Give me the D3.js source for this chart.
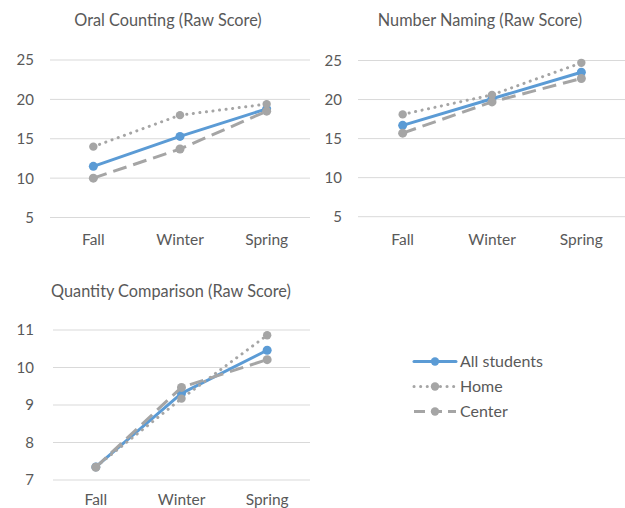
<!DOCTYPE html>
<html>
<head>
<meta charset="utf-8">
<script src="https://cdn.jsdelivr.net/npm/d3@7"></script>
<style>
  html, body { margin: 0; padding: 0; background: #fff; }
  svg { display: block; }
  text { font-family: Lato, "Open Sans", sans-serif; fill: #595959; }
</style>
</head>
<body>
<svg id="chart" width="625" height="508"></svg>
<script>
// Assessment terms
const terms = ["Fall", "Winter", "Spring"];

// Series names
const seriesNames = ["All students", "Home", "Center"];

// Oral Counting raw scores
const oralAll = [11.5, 15.3, 18.8];
const oralHome = [14.0, 18.0, 19.4];
const oralCenter = [10.0, 13.7, 18.5];

// Number Naming raw scores
const namingAll = [16.7, 20.1, 23.5];
const namingHome = [18.1, 20.6, 24.7];
const namingCenter = [15.7, 19.7, 22.7];

// Quantity Comparison raw scores
const qtyAll = [7.35, 9.31, 10.46];
const qtyHome = [7.35, 9.17, 10.86];
const qtyCenter = [7.34, 9.47, 10.21];

// Y-axis ticks
const countTicks = [5, 10, 15, 20, 25];
const qtyTicks = [7, 8, 9, 10, 11];

const styles = {
  "All students": { color: "#5B9BD5", dash: null, width: 3, cap: "round", r: 4.5 },
  "Home": { color: "#A5A5A5", dash: "0.1 6.5", width: 3, cap: "round", r: 4.2 },
  "Center": { color: "#A5A5A5", dash: "14 7", width: 3, cap: "butt", r: 4.5 }
};

const panels = [
  { title: "Oral Counting (Raw Score)", titleX: 168, titleY: 26,
    x0: 50, x1: 310, yTop: 60, yBot: 217.5, labelX: 34, catY: 245,
    domain: [5, 25], ticks: countTicks, series: [oralAll, oralHome, oralCenter] },
  { title: "Number Naming (Raw Score)", titleX: 480, titleY: 26,
    x0: 358, x1: 626, yTop: 60.5, yBot: 216.7, labelX: 342, catY: 245,
    domain: [5, 25], ticks: countTicks, series: [namingAll, namingHome, namingCenter] },
  { title: "Quantity Comparison (Raw Score)", titleX: 171, titleY: 297,
    x0: 53, x1: 310, yTop: 330, yBot: 480, labelX: 34, catY: 505,
    domain: [7, 11], ticks: qtyTicks, series: [qtyAll, qtyHome, qtyCenter] }
];

const svg = d3.select("#chart");

panels.forEach(p => {
  const g = svg.append("g");
  const x = d3.scaleBand().domain(terms).range([p.x0, p.x1]);
  const y = d3.scaleLinear().domain(p.domain).range([p.yBot, p.yTop]);

  g.append("text")
    .attr("x", p.titleX).attr("y", p.titleY)
    .attr("text-anchor", "middle")
    .style("font-size", "16.3px")
    .text(p.title);

  // horizontal gridlines
  g.append("g").selectAll("line").data(p.ticks).join("line")
    .attr("x1", p.x0).attr("x2", p.x1)
    .attr("y1", d => y(d)).attr("y2", d => y(d))
    .attr("stroke", "#D9D9D9").attr("stroke-width", 1);

  // y tick labels
  g.append("g").selectAll("text").data(p.ticks).join("text")
    .attr("x", p.labelX).attr("y", d => y(d))
    .attr("dy", "0.36em")
    .attr("text-anchor", "end")
    .style("font-size", "15px")
    .text(d => d);

  // category labels
  g.append("g").selectAll("text").data(terms).join("text")
    .attr("x", d => x(d) + x.bandwidth() / 2).attr("y", p.catY)
    .attr("text-anchor", "middle")
    .style("font-size", "15.5px")
    .text(d => d);

  const line = d3.line()
    .x((d, i) => x(terms[i]) + x.bandwidth() / 2)
    .y(d => y(d));

  p.series.forEach((vals, si) => {
    const s = styles[seriesNames[si]];
    g.append("path")
      .datum(vals)
      .attr("d", line)
      .attr("fill", "none")
      .attr("stroke", s.color)
      .attr("stroke-width", s.width)
      .attr("stroke-linecap", s.cap)
      .attr("stroke-linejoin", "round")
      .attr("stroke-dasharray", s.dash);
    g.append("g").selectAll("circle").data(vals).join("circle")
      .attr("cx", (d, i) => x(terms[i]) + x.bandwidth() / 2)
      .attr("cy", d => y(d))
      .attr("r", s.r)
      .attr("fill", s.color);
  });
});

// legend
const legend = svg.append("g");
seriesNames.forEach((name, i) => {
  const s = styles[name];
  const yy = 361.5 + i * 25;
  legend.append("line")
    .attr("x1", 414).attr("x2", 456).attr("y1", yy).attr("y2", yy)
    .attr("stroke", s.color).attr("stroke-width", s.width)
    .attr("stroke-linecap", s.cap)
    .attr("stroke-dasharray", name === "Center" ? "11 6" : s.dash);
  legend.append("circle").attr("cx", 435).attr("cy", yy).attr("r", 4.2).attr("fill", s.color);
  legend.append("text")
    .attr("x", 460).attr("y", yy).attr("dy", "0.36em")
    .style("font-size", "16px")
    .text(name);
});
</script>
</body>
</html>
